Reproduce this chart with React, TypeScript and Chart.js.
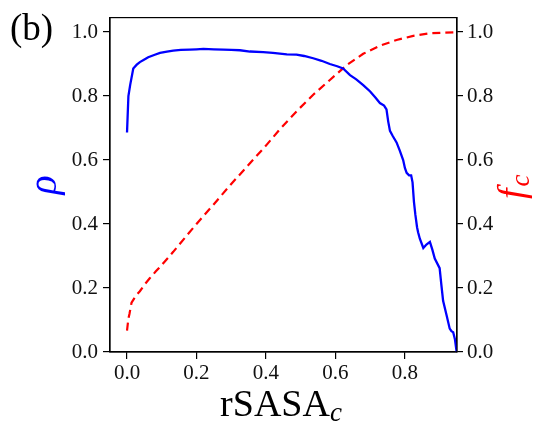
import React, { useEffect, useRef } from "react";
import { Chart, registerables } from "chart.js";
Chart.register(...registerables);

// rho (blue, left axis) vs rSASA_c
const rhoX = [0, 0.004, 0.009, 0.018, 0.028, 0.037, 0.05, 0.061, 0.08, 0.095, 0.115, 0.133, 0.155, 0.181, 0.2, 0.22, 0.25, 0.277, 0.3, 0.325, 0.354, 0.392, 0.42, 0.46, 0.488, 0.51, 0.536, 0.56, 0.584, 0.605, 0.622, 0.642, 0.66, 0.68, 0.7, 0.715, 0.728, 0.74, 0.747, 0.752, 0.757, 0.765, 0.776, 0.785, 0.795, 0.8, 0.805, 0.812, 0.818, 0.822, 0.826, 0.83, 0.835, 0.838, 0.843, 0.853, 0.862, 0.872, 0.879, 0.886, 0.9, 0.905, 0.91, 0.92, 0.929, 0.934, 0.939, 0.944, 0.949];
const rhoY = [0.686, 0.8, 0.834, 0.886, 0.898, 0.906, 0.914, 0.921, 0.929, 0.935, 0.939, 0.942, 0.944, 0.945, 0.946, 0.947, 0.946, 0.945, 0.944, 0.943, 0.939, 0.937, 0.935, 0.93, 0.929, 0.925, 0.918, 0.91, 0.9, 0.893, 0.886, 0.865, 0.852, 0.834, 0.814, 0.795, 0.778, 0.77, 0.758, 0.72, 0.691, 0.675, 0.655, 0.63, 0.6, 0.575, 0.56, 0.552, 0.552, 0.53, 0.47, 0.43, 0.39, 0.374, 0.354, 0.325, 0.336, 0.344, 0.32, 0.292, 0.262, 0.21, 0.16, 0.115, 0.073, 0.065, 0.062, 0.04, 0.0];

// f_c (red dashed, right axis) vs rSASA_c
const fcX = [0, 0.004, 0.007, 0.013, 0.025, 0.037, 0.05, 0.066, 0.083, 0.1, 0.133, 0.172, 0.2, 0.25, 0.3, 0.35, 0.4, 0.44, 0.488, 0.536, 0.584, 0.632, 0.68, 0.728, 0.776, 0.824, 0.872, 0.94, 0.95];
const fcY = [0.067, 0.105, 0.119, 0.154, 0.175, 0.19, 0.21, 0.231, 0.252, 0.272, 0.313, 0.364, 0.4, 0.462, 0.525, 0.585, 0.645, 0.696, 0.752, 0.804, 0.85, 0.896, 0.932, 0.957, 0.975, 0.988, 0.996, 0.999, 1.0];

const xTicks = [0, 0.2, 0.4, 0.6, 0.8];
const yTicks = [0, 0.2, 0.4, 0.6, 0.8, 1.0];

const SERIF = "'Liberation Serif', 'Times New Roman', serif";

const titlesPlugin = {
  id: "titles",
  afterDraw(chart: any) {
    const ctx = chart.ctx as CanvasRenderingContext2D;
    const a = chart.chartArea;
    ctx.save();
    // frame
    ctx.strokeStyle = "#000";
    ctx.lineWidth = 1.2;
    ctx.strokeRect(a.left, a.top, a.right - a.left, a.bottom - a.top);

    // (b)
    ctx.fillStyle = "#000";
    ctx.font = `37px ${SERIF}`;
    ctx.textAlign = "left";
    ctx.textBaseline = "alphabetic";
    ctx.fillText("(b)", 10, 40);

    const cy = (a.top + a.bottom) / 2;

    // rho (left)
    ctx.save();
    ctx.translate(56, cy);
    ctx.rotate(-Math.PI / 2);
    ctx.fillStyle = "#0000ff";
    ctx.font = `italic 40px ${SERIF}`;
    ctx.textAlign = "center";
    ctx.fillText("ρ", 0, 0);
    ctx.restore();

    // f_c (right)
    ctx.save();
    ctx.translate(524, cy + 2);
    ctx.rotate(-Math.PI / 2);
    ctx.fillStyle = "#ff0000";
    ctx.textAlign = "left";
    ctx.font = `italic 38px ${SERIF}`;
    const fw = ctx.measureText("f").width;
    ctx.font = `italic 27px ${SERIF}`;
    const cw = ctx.measureText("c").width;
    const w = fw + cw + 2;
    ctx.font = `italic 38px ${SERIF}`;
    ctx.fillText("f", -w / 2, 0);
    ctx.font = `italic 27px ${SERIF}`;
    ctx.fillText("c", -w / 2 + fw + 2, 5);
    ctx.restore();

    // x title rSASA_c
    ctx.fillStyle = "#000";
    ctx.font = `38px ${SERIF}`;
    const mw = ctx.measureText("rSASA").width;
    ctx.font = `italic 27px ${SERIF}`;
    const sw = ctx.measureText("c").width;
    const tw = mw + sw;
    const x0 = 281 - tw / 2;
    ctx.textAlign = "left";
    ctx.font = `38px ${SERIF}`;
    ctx.fillText("rSASA", x0, 416);
    ctx.font = `italic 27px ${SERIF}`;
    ctx.fillText("c", x0 + mw, 421);
    ctx.restore();
  },
};

export default function App() {
  const ref = useRef<HTMLCanvasElement | null>(null);
  useEffect(() => {
    if (!ref.current) return;
    const tickFont = { family: SERIF, size: 21 };
    const rhoData = rhoX.map((x, i) => ({ x, y: rhoY[i] }));
    const fcData = fcX.map((x, i) => ({ x, y: fcY[i] }));
    const chart = new Chart(ref.current, {
      type: "line",
      data: {
        datasets: [
          {
            label: "rho",
            data: rhoData,
            borderColor: "#0000ff",
            borderWidth: 2.3,
            pointRadius: 0,
            fill: false,
            tension: 0,
            yAxisID: "y",
          },
          {
            label: "fc",
            data: fcData,
            borderColor: "#ff0000",
            borderWidth: 2.2,
            borderDash: [8, 5],
            pointRadius: 0,
            fill: false,
            tension: 0,
            yAxisID: "y1",
          },
        ],
      },
      options: {
        animation: false,
        responsive: false,
        devicePixelRatio: 1,
        layout: { padding: { top: 11, left: 0, right: 0, bottom: 0 } },
        plugins: { legend: { display: false }, tooltip: { enabled: false } },
        scales: {
          x: {
            type: "linear",
            position: "bottom",
            min: -0.049,
            max: 0.95,
            afterBuildTicks: (s: any) => {
              s.ticks = xTicks.map((v) => ({ value: v }));
            },
            afterFit: (s: any) => {
              s.height = 72;
            },
            ticks: {
              font: tickFont,
              color: "#111",
              padding: 2,
              maxRotation: 0,
              callback: (v: any) => Number(v).toFixed(1),
            },
            grid: { drawOnChartArea: false, drawTicks: true, tickLength: 7, color: "#000", lineWidth: 1.2 },
            border: { display: true, color: "#000", width: 1.2 },
          },
          y: {
            type: "linear",
            position: "left",
            min: 0,
            max: 1.045,
            afterBuildTicks: (s: any) => {
              s.ticks = yTicks.map((v) => ({ value: v }));
            },
            afterFit: (s: any) => {
              s.width = 110;
            },
            ticks: {
              font: tickFont,
              color: "#111",
              padding: 5,
              callback: (v: any) => Number(v).toFixed(1),
            },
            grid: { drawOnChartArea: false, drawTicks: true, tickLength: 7, color: "#000", lineWidth: 1.2 },
            border: { display: true, color: "#000", width: 1.2 },
          },
          y1: {
            type: "linear",
            position: "right",
            min: 0,
            max: 1.045,
            afterBuildTicks: (s: any) => {
              s.ticks = yTicks.map((v) => ({ value: v }));
            },
            afterFit: (s: any) => {
              s.width = 86;
            },
            ticks: {
              font: tickFont,
              color: "#111",
              padding: 4,
              callback: (v: any) => Number(v).toFixed(1),
            },
            grid: { drawOnChartArea: false, drawTicks: true, tickLength: 6, color: "#000", lineWidth: 1.2 },
            border: { display: true, color: "#000", width: 1.2 },
          },
        },
      },
      plugins: [titlesPlugin],
    } as any);
    return () => chart.destroy();
  }, []);
  return (
    <div style={{ position: "fixed", left: 0, top: 0, width: 543, height: 424, background: "#fff" }}>
      <canvas ref={ref} width={543} height={424} style={{ width: 543, height: 424, display: "block" }} />
    </div>
  );
}
